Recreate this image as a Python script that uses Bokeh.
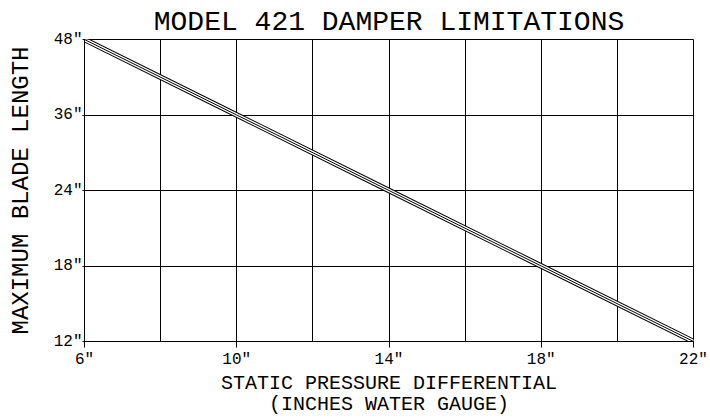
from bokeh.plotting import figure
from bokeh.models import Range1d, FixedTicker
from bokeh.embed import file_html
from bokeh.resources import INLINE

# ---- data ----
pressure = [6, 10, 14, 18, 22]            # static pressure differential (in. w.g.)
blade_length = [48, 36, 24, 18, 12]       # maximum blade length (in.)
x_ticks = [6, 10, 14, 18, 22]
x_grid = [6, 8, 10, 12, 14, 16, 18, 20, 22]
y_ticks = [12, 18, 24, 36, 48]            # evenly spaced categories on the chart
x_tick_labels = ['6"', '10"', '14"', '18"', '22"']
y_tick_labels = ['12"', '18"', '24"', '36"', '48"']

title_text = "MODEL 421 DAMPER LIMITATIONS"
x_title = "STATIC PRESSURE DIFFERENTIAL\n(INCHES WATER GAUGE)"
y_title = "MAXIMUM BLADE LENGTH"

FONT = "Liberation Mono"

y_pos = [y_ticks.index(v) for v in blade_length]
y_tick_pos = list(range(len(y_ticks)))

p = figure(width=710, height=419, output_backend="svg", toolbar_location=None,
           x_range=Range1d(6, 22), y_range=Range1d(0, len(y_ticks) - 1),
           min_border_left=84, min_border_right=17, min_border_top=39,
           min_border_bottom=77, title=title_text)
p.title.align = "center"
p.title.text_font = FONT
p.title.text_font_size = "28px"
p.title.text_font_style = "normal"
p.title.text_color = "black"
p.title.standoff = 3
p.background_fill_color = "white"
p.border_fill_color = "white"
p.outline_line_color = "black"
p.outline_line_width = 1

# axes
p.xaxis.ticker = FixedTicker(ticks=x_ticks)
p.xaxis.major_label_overrides = {t: l for t, l in zip(x_ticks, x_tick_labels)}
p.yaxis.ticker = FixedTicker(ticks=y_tick_pos)
p.yaxis.major_label_overrides = {t: l for t, l in zip(y_tick_pos, y_tick_labels)}
for ax in (p.xaxis, p.yaxis):
    ax.axis_line_color = "black"
    ax.major_tick_line_color = "black"
    ax.minor_tick_line_color = None
    ax.major_tick_in = 0
    ax.major_label_text_font = FONT
    ax.major_label_text_font_size = "16px"
    ax.major_label_text_color = "black"
    ax.axis_label_text_font = FONT
    ax.axis_label_text_font_style = "normal"
    ax.axis_label_text_color = "black"
p.xaxis.major_tick_out = 6
p.xaxis.major_label_standoff = 3
p.xaxis.axis_label = x_title
p.xaxis.axis_label_text_font_size = "20px"
p.xaxis.axis_label_text_line_height = 0.95
p.xaxis.axis_label_standoff = 0
p.yaxis.major_tick_out = 2
p.yaxis.major_label_standoff = 0
p.yaxis.axis_label = y_title
p.yaxis.axis_label_text_font_size = "24px"
p.yaxis.axis_label_standoff = 16

# grids
p.xgrid.ticker = FixedTicker(ticks=x_grid)
p.ygrid.ticker = FixedTicker(ticks=y_tick_pos)
for g in (p.xgrid, p.ygrid):
    g.grid_line_color = "black"
    g.grid_line_width = 1
    g.grid_line_alpha = 1.0

# triple line
p.line(pressure, y_pos, line_color="black", line_width=5.5)
p.line(pressure, y_pos, line_color="white", line_width=3.5)
p.line(pressure, y_pos, line_color="black", line_width=1)

open("out.html", "w").write(file_html(p, INLINE))
